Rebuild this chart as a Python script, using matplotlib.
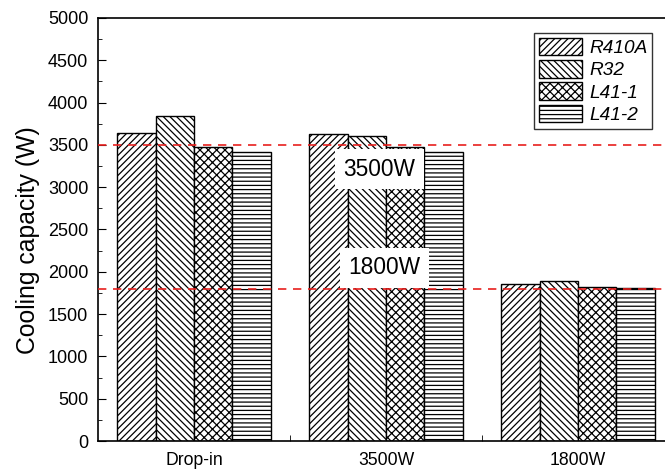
import numpy as np
import matplotlib
matplotlib.use("Agg")
import matplotlib.pyplot as plt

plt.rcParams['font.family'] = ['Liberation Sans', 'DejaVu Sans']
plt.rcParams['hatch.linewidth'] = 0.9

# data
groups = ["Drop-in", "3500W", "1800W"]
refrigerants = ["R410A", "R32", "L41-1", "L41-2"]
r410a = [3640, 3630, 1855]
r32 = [3840, 3605, 1890]
l41_1 = [3475, 3475, 1820]
l41_2 = [3420, 3420, 1810]
series = [r410a, r32, l41_1, l41_2]
hatches = ['/////', '\\\\\\\\\\', 'xxxx', '----']
targets = [3500, 1800]
target_labels = ["3500W", "1800W"]

fig = plt.figure(figsize=(6.65, 4.72), dpi=100)
ax = fig.add_axes([98/665, 31/472, 576/665, 423/472])

x = np.arange(len(groups))
w = 0.2
for i, (vals, h) in enumerate(zip(series, hatches)):
    ax.bar(x + (i - 1.5)*w, vals, w, facecolor='white', edgecolor='black',
           hatch=h, linewidth=1.0, label=refrigerants[i], zorder=2)

for t in targets:
    ax.axhline(t, color='#e8201e', linestyle=(0, (5, 4)), linewidth=1.2, zorder=3)

# boxed labels in the middle group
ax.text(0.964, 3215, target_labels[0], fontsize=16.4, ha='center', va='center',
        bbox=dict(facecolor='white', edgecolor='none', pad=6), zorder=4)
ax.text(0.99, 2045, target_labels[1], fontsize=16.4, ha='center', va='center',
        bbox=dict(facecolor='white', edgecolor='none', pad=6), zorder=4)

ax.set_xlim(-0.5, 2.5)
ax.set_ylim(0, 5000)
ax.set_yticks(np.arange(0, 5001, 500))
ax.set_yticks(np.arange(250, 5000, 500), minor=True)
ax.tick_params(axis='y', which='both', direction='in', labelsize=13, pad=7)
ax.tick_params(axis='y', which='major', length=6)
ax.tick_params(axis='y', which='minor', length=3)
ax.set_xticks(x)
ax.set_xticklabels(groups, fontsize=12.7)
ax.set_xticks([0.5, 1.5], minor=True)
ax.tick_params(axis='x', which='major', length=0, pad=8)
ax.tick_params(axis='x', which='minor', direction='in', length=4)
ax.set_ylabel("Cooling capacity (W)", fontsize=17.8)
ax.yaxis.set_label_coords(-0.10, 0.475)
for s in ax.spines.values():
    s.set_linewidth(1.2)

leg = ax.legend(loc='upper left', bbox_to_anchor=(436/576, 1 - 15/423),
                prop={'style': 'italic', 'size': 13.7}, frameon=True, fancybox=False,
                edgecolor='black', handlelength=2.26, handleheight=1.05,
                handletextpad=0.4, labelspacing=0.16, borderpad=0.25, borderaxespad=0)
leg.get_frame().set_linewidth(1.0)

fig.savefig("out.png", dpi=100)
